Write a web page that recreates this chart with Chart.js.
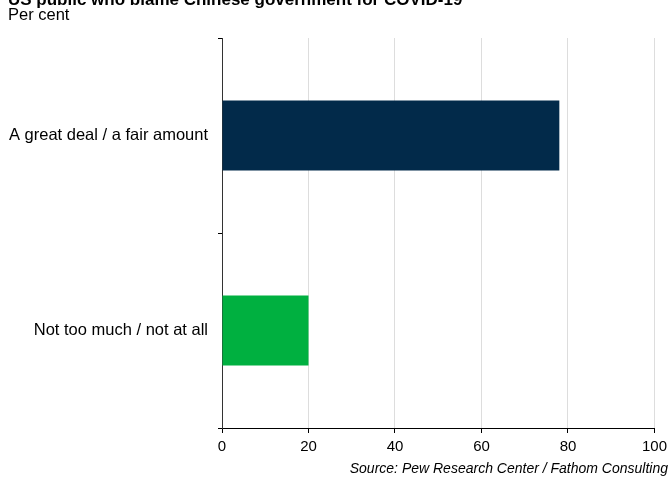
<!DOCTYPE html>
<html>
<head>
<meta charset="utf-8">
<script src="https://cdn.jsdelivr.net/npm/chart.js@4/dist/chart.umd.min.js"></script>
<style>
html,body{margin:0;padding:0;background:#fff;}
#wrap{position:relative;width:672px;height:479px;}
</style>
</head>
<body>
<div id="wrap"><canvas id="c" width="672" height="479"></canvas></div>
<script>
const categories = ["A great deal / a fair amount", "Not too much / not at all"];
const values = [78, 20];
const barColors = ["#022a4a", "#00b040"];
const xTicks = [0, 20, 40, 60, 80, 100];
const titleText = "US public who blame Chinese government for COVID-19";
const subtitleText = "Per cent";
const sourceText = "Source: Pew Research Center / Fathom Consulting";

const FONT = "'Liberation Sans', Arial, Helvetica, sans-serif";

const textPlugin = {
  id: 'texts',
  afterDraw(chart) {
    const ctx = chart.ctx;
    ctx.save();
    ctx.fillStyle = '#000';
    ctx.textBaseline = 'alphabetic';
    ctx.textAlign = 'left';
    ctx.font = "bold 17px " + FONT;
    ctx.fillText(titleText, 8, 5);
    ctx.font = "16.5px " + FONT;
    ctx.fillText(subtitleText, 8, 20);
    ctx.font = "italic 14px " + FONT;
    ctx.textAlign = 'right';
    ctx.fillText(sourceText, 668, 473);
    ctx.restore();
  }
};

new Chart(document.getElementById('c'), {
  type: 'bar',
  data: {
    labels: categories,
    datasets: [{
      data: values,
      backgroundColor: barColors,
      borderWidth: 0,
      barPercentage: 0.36,
      categoryPercentage: 1.0
    }]
  },
  options: {
    indexAxis: 'y',
    responsive: false,
    animation: false,
    devicePixelRatio: 1,
    layout: { padding: { top: 38, right: 17, left: 0, bottom: 0 } },
    plugins: { legend: { display: false }, tooltip: { enabled: false }, title: { display: false } },
    scales: {
      x: {
        min: 0, max: 100,
        afterBuildTicks(scale) { scale.ticks = xTicks.map(v => ({ value: v })); },
        afterFit(scale) { scale.height = 51; },
        grid: { color: '#dddddd', lineWidth: 1, tickLength: 5, tickColor: '#000', drawTicks: true },
        border: { display: true, color: '#000', width: 1 },
        ticks: { color: '#000', font: { size: 15, family: FONT }, padding: 5, maxRotation: 0 }
      },
      y: {
        afterFit(scale) { scale.width = 222; },
        grid: { drawOnChartArea: false, tickLength: 4, tickColor: '#000', offset: true },
        border: { display: true, color: '#333', width: 1 },
        ticks: { color: '#000', font: { size: 16.5, family: FONT }, padding: 10 }
      }
    }
  },
  plugins: [textPlugin]
});
</script>
</body>
</html>
